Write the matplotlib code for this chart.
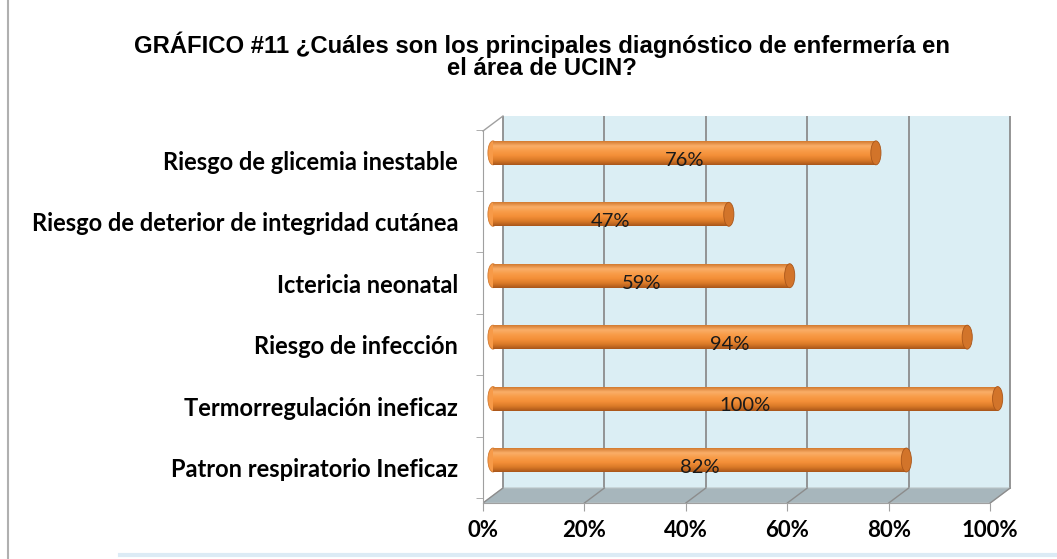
import matplotlib
matplotlib.use('Agg')
import matplotlib.pyplot as plt
from matplotlib.patches import Polygon, Rectangle, Ellipse
from matplotlib.colors import LinearSegmentedColormap
from matplotlib.lines import Line2D
import numpy as np

# ── Data ────────────────────────────────────────────────────
categories = ['Patron respiratorio Ineficaz', 'Termorregulación ineficaz',
              'Riesgo de infección', 'Ictericia neonatal',
              'Riesgo de deterior de integridad cutánea',
              'Riesgo de glicemia inestable']
values = [82, 100, 94, 59, 47, 76]
xticks = [0, 20, 40, 60, 80, 100]
xtick_labels = ['0%', '20%', '40%', '60%', '80%', '100%']
title = 'GRÁFICO #11 ¿Cuáles son los principales diagnóstico de enfermería en\nel área de UCIN?'

WALL = '#DBEEF4'
FLOOR = '#A7B6BC'
GRID = '#8C8C8C'
bar_cmap = LinearSegmentedColormap.from_list(
    'cyl', ['#D27A30', '#FAAE68', '#F89C48', '#F48F38', '#DA7A28', '#A9561A'])

fig = plt.figure(figsize=(10.57, 5.59), dpi=100)
ax = fig.add_axes([483/1057, (559-503)/559, (1013-483)/1057, (503-116)/559])
ax.set_xlim(0, 104.5)
ax.set_ylim(-0.70, 5.60)
ax.set_facecolor('none')

dx, dy = 3.94, 0.244        # depth of the fake 3-D box (data units)
y_front, y_back, y_top = -0.70, -0.70 + dy, 5.60

# back wall + gridlines
ax.add_patch(Rectangle((dx, y_back), 100, y_top - y_back, facecolor=WALL,
                       edgecolor='none', zorder=0))
for t in xticks:
    ax.plot([t + dx, t + dx], [y_back, y_top], color=GRID, lw=1.3, zorder=1)
# floor
ax.add_patch(Polygon([(0, y_front), (100, y_front), (100 + dx, y_back), (dx, y_back)],
                     closed=True, facecolor=FLOOR, edgecolor='#B9C3C6', lw=0.8, zorder=1))
for t in xticks:
    ax.plot([t, t + dx], [y_front, y_back], color=GRID, lw=1.0, zorder=1)
# left edge
ax.plot([0, dx], [y_top - dy, y_top], color='#A0A0A0', lw=1.0, zorder=1, clip_on=False)

# bars as cylinders
h = 0.39
off = dx / 2
r = 1.0
grad = np.linspace(0, 1, 100).reshape(-1, 1)
for i, v in enumerate(values):
    y = i
    x0, x1 = off - r, v + off + 0.5
    ax.add_patch(Ellipse((x0 + r, y), 2 * r, h, facecolor='#F79A48',
                         edgecolor='#D27A30', lw=0.6, zorder=3))
    im = ax.imshow(grad, aspect='auto', cmap=bar_cmap,
                   extent=[x0 + r, x1 - r, y - h / 2, y + h / 2], zorder=3.1)
    clip = Rectangle((x0 + r, y - h / 2), x1 - x0 - 2 * r, h, transform=ax.transData)
    im.set_clip_path(clip)
    ax.add_patch(Ellipse((x1 - r, y), 2 * r, h, facecolor='#D2742A',
                         edgecolor='#A9561A', lw=0.6, zorder=3.2))
    ax.text((x0 + x1) / 2, y - 0.12, f'{v}%', ha='center', va='center',
            fontsize=14.5, family='Lato', color='#1a1a1a', zorder=5)

# axes & ticks
for s in ['top', 'right']:
    ax.spines[s].set_visible(False)
ax.spines['bottom'].set_bounds(0, 100)
ax.spines['bottom'].set_color('#A0A0A0')
ax.spines['left'].set_bounds(y_front, y_top - dy)
ax.spines['left'].set_color('#A0A0A0')

ax.set_xticks(xticks)
ax.set_xticklabels(xtick_labels, fontsize=16, fontweight='bold', family='Lato')
ax.tick_params(axis='x', length=6, color='#A0A0A0', pad=6)

ypos = np.arange(len(categories)) - dy / 2
ax.set_yticks(ypos)
ax.set_yticklabels(categories, fontsize=17, fontweight='bold', family='Lato')
ax.tick_params(axis='y', which='major', length=0, pad=18)
ax.set_yticks(np.arange(len(categories) + 1) - 0.5 - dy / 2, minor=True)
ax.tick_params(axis='y', which='minor', length=5, color='#A0A0A0')

fig.text(542/1057, 1 - 56/559, title, ha='center', va='center', fontsize=17.2,
         fontweight='bold', family='Liberation Sans', linespacing=0.92)

# page border bits
fig.add_artist(Line2D([8/1057, 8/1057], [0, 1], color='#B0B0B0', lw=1.5))
fig.add_artist(Line2D([120/1057, 1], [4/559, 4/559], color='#DCEBF5', lw=3))

fig.savefig('out.png', dpi=100)
